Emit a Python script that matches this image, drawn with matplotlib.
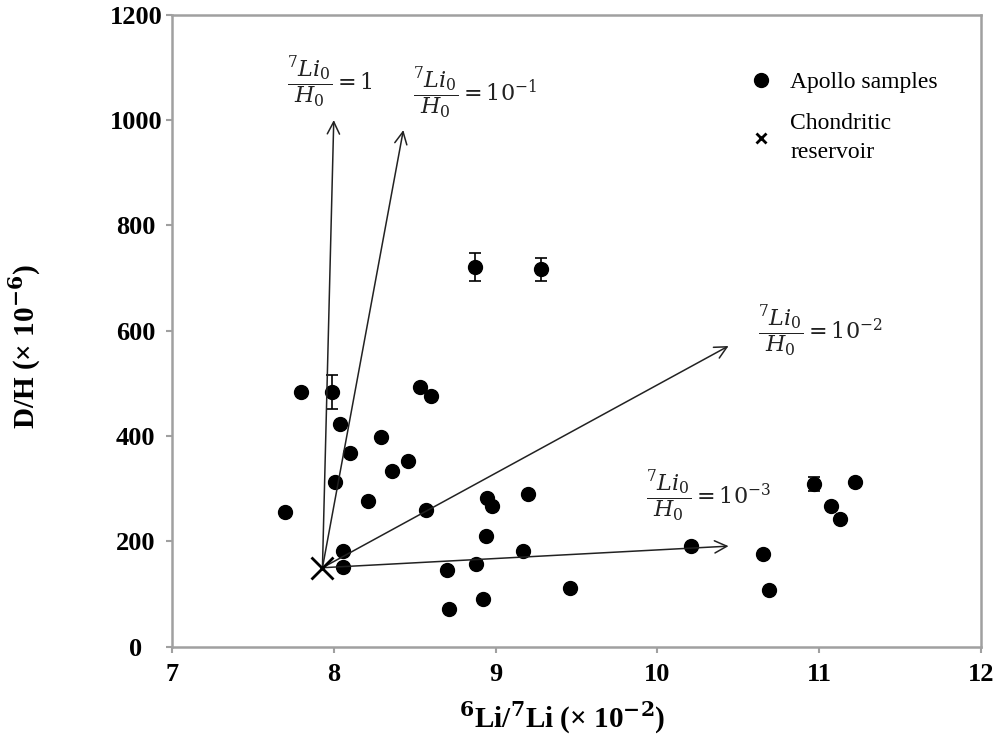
import matplotlib
matplotlib.use('Agg')
import matplotlib.pyplot as plt
from matplotlib.lines import Line2D

plt.rcParams['mathtext.fontset'] = 'dejavuserif'

# Apollo samples: 6Li/7Li (x 1e-2) and D/H (x 1e-6)
li_ratio = [7.80, 7.99, 8.53, 8.60, 8.04, 8.29, 8.10, 8.46, 8.36, 8.01,
            9.20, 8.95, 8.98, 7.70, 8.21, 8.57, 8.94, 9.17, 8.06, 8.06,
            8.88, 8.70, 9.46, 8.92, 8.71, 8.87, 9.28,
            10.97, 11.22, 11.07, 11.13, 10.21, 10.65, 10.69]
dh_ratio = [484, 484, 494, 476, 422, 399, 367, 353, 333, 313,
            290, 283, 268, 256, 276, 259, 211, 182, 182, 151,
            157, 145, 111, 91, 71, 721, 717,
            309, 313, 267, 242, 191, 176, 108]

# error bars on a few samples
err_x = [7.99, 8.87, 9.28, 10.97]
err_y = [484, 721, 717, 309]
err_dh = [32, 26, 22, 13]

# chondritic reservoir and the mixing vectors
chondrite = (7.93, 150)
arrow_ends = [(8.0, 1000), (8.43, 981), (10.44, 571), (10.44, 191)]
arrow_labels = [r'$\dfrac{{}^7Li_0}{H_0} = 1$',
                r'$\dfrac{{}^7Li_0}{H_0} = 10^{-1}$',
                r'$\dfrac{{}^7Li_0}{H_0} = 10^{-2}$',
                r'$\dfrac{{}^7Li_0}{H_0} = 10^{-3}$']
label_pos = [(7.71, 1072), (8.49, 1051), (10.62, 598), (9.93, 285)]

fig = plt.figure(figsize=(10.01, 7.36), dpi=100)
ax = fig.add_axes([0.1718, 0.1213, 0.8082, 0.8587])

ax.errorbar(err_x, err_y, yerr=err_dh, fmt='none', ecolor='black',
            elinewidth=1.2, capsize=4.5, capthick=1.2, zorder=2)
ax.plot(li_ratio, dh_ratio, 'o', color='black', markersize=10, zorder=3)
ax.plot(*chondrite, 'x', color='black', markersize=16, mew=2, zorder=4)

for (x1, y1), txt, (tx, ty) in zip(arrow_ends, arrow_labels, label_pos):
    ax.annotate('', xy=(x1, y1), xytext=chondrite,
                arrowprops=dict(arrowstyle='->', color='#222222', lw=1.1,
                                mutation_scale=22, shrinkA=0, shrinkB=0))
    ax.text(tx, ty, txt, fontsize=16, ha='left', va='center', color='#222222')

ax.set_xlim(7, 12)
ax.set_ylim(0, 1200)
ax.set_xticks([7, 8, 9, 10, 11, 12])
ax.set_yticks(range(0, 1201, 200))

for lab in ax.get_xticklabels() + ax.get_yticklabels():
    lab.set_fontproperties('Liberation Serif')
    lab.set_fontweight('bold')
    lab.set_fontsize(19)
for lab in ax.get_yticklabels():
    lab.set_horizontalalignment('center')

ax.tick_params(direction='out', length=4, width=1.5, color='#a0a0a0')
ax.tick_params(axis='x', pad=8)
ax.tick_params(axis='y', pad=22)
for sp in ax.spines.values():
    sp.set_color('#a0a0a0')
    sp.set_linewidth(1.8)

ax.set_xlabel(r'$^{\mathbf{6}}$Li/$^{\mathbf{7}}$Li (× 10$^{\mathbf{-2}}$)',
              fontsize=21, family='Liberation Serif', weight='bold')
ax.set_ylabel(r'D/H (× 10$^{\mathbf{-6}}$)',
              fontsize=21, family='Liberation Serif', weight='bold')
ax.xaxis.set_label_coords(0.482, -0.084)
ax.yaxis.set_label_coords(-0.16, 0.474)

handles = [Line2D([], [], ls='none', marker='o', color='black', markersize=10),
           Line2D([], [], ls='none', marker='x', color='black', markersize=7.5, mew=2)]
leg = ax.legend(handles, ['Apollo samples', 'Chondritic\nreservoir'],
                loc='upper left', bbox_to_anchor=(0.713, 0.910), borderaxespad=0,
                borderpad=0, frameon=False, handlelength=1.0, handletextpad=0.75,
                labelspacing=0.85, prop=dict(family='Liberation Serif', size=17))
for t in leg.get_texts():
    t.set_linespacing(1.5)

fig.savefig('out.png', dpi=100)
